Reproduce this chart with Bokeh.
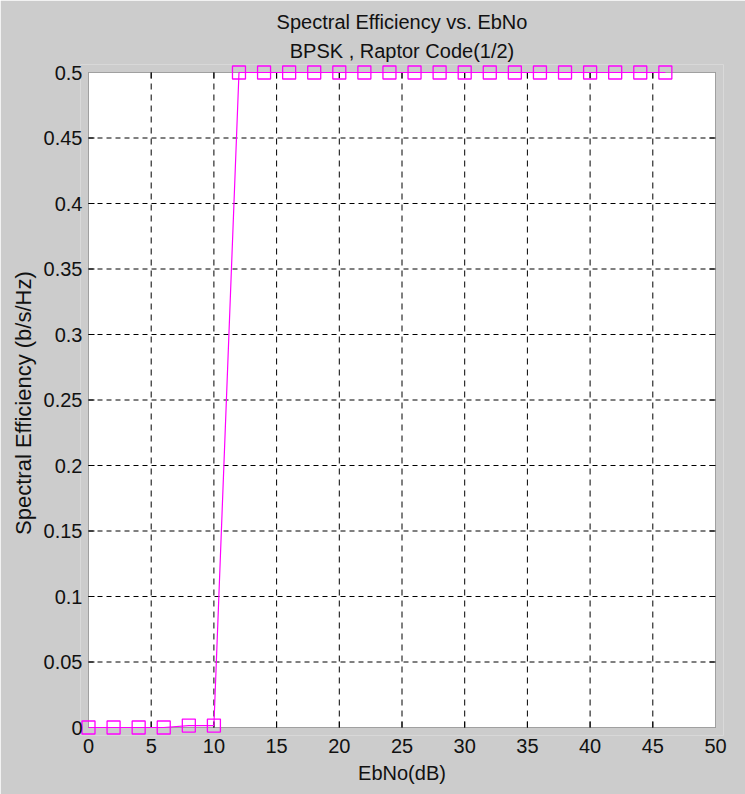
import math
from bokeh.plotting import figure
from bokeh.models import Title, FixedTicker, CustomJSTickFormatter, Range1d, BoxAnnotation
from bokeh.embed import file_html
from bokeh.resources import INLINE

# ---- data ----
ebno_db = [0, 2, 4, 6, 8, 10, 12, 14, 16, 18, 20, 22, 24, 26, 28, 30, 32, 34, 36, 38, 40, 42, 44, 46]
spectral_eff = [0, 0, 0, 0, 0.0015, 0.0015, 0.5, 0.5, 0.5, 0.5, 0.5, 0.5, 0.5, 0.5,
                0.5, 0.5, 0.5, 0.5, 0.5, 0.5, 0.5, 0.5, 0.5, 0.5]
x_ticks = [0, 5, 10, 15, 20, 25, 30, 35, 40, 45, 50]
y_ticks = [0, 0.05, 0.1, 0.15, 0.2, 0.25, 0.3, 0.35, 0.4, 0.45, 0.5]
x_lim = (0, 50)
y_lim = (0, 0.5)
title_lines = ["Spectral Efficiency vs. EbNo", "BPSK , Raptor Code(1/2)"]
x_label = "EbNo(dB)"
y_label = "Spectral Efficiency  (b/s/Hz)"

W, H = 745, 794
PAD = 8  # frame extends this many px beyond the axes box so edge markers are not clipped
BL, BR, BT, BB = 80, 22, 64, 59
FW = W - BL - BR
FH = H - BT - BB
xpad = (x_lim[1] - x_lim[0]) / (FW - 2 * PAD) * PAD
ypad = (y_lim[1] - y_lim[0]) / (FH - 2 * PAD) * PAD

FONT = "'Liberation Sans', Arial, sans-serif"
FS = "20px"
GRAY = "#cccccc"
TXT = "#111111"
MAG = "#ff00ff"

p = figure(width=W, height=H, output_backend="svg", toolbar_location=None,
           x_range=Range1d(x_lim[0] - xpad, x_lim[1] + xpad),
           y_range=Range1d(y_lim[0] - ypad, y_lim[1] + ypad),
           min_border_left=BL, min_border_right=BR, min_border_top=BT, min_border_bottom=BB,
           title=None)
p.border_fill_color = GRAY
p.background_fill_color = GRAY
p.outline_line_color = None
p.xgrid.visible = False
p.ygrid.visible = False

# titles (first added sits nearest the plot)
p.add_layout(Title(text=title_lines[1], align="center", text_font=FONT, text_font_size=FS,
                   text_font_style="normal", text_color=TXT, standoff=5, offset=5), "above")
p.add_layout(Title(text=title_lines[0], align="center", text_font=FONT, text_font_size=FS,
                   text_font_style="normal", text_color=TXT, standoff=6, offset=5), "above")

# white axes box + outline
p.add_layout(BoxAnnotation(left=x_lim[0], right=x_lim[1], bottom=y_lim[0], top=y_lim[1],
                           fill_color="white", fill_alpha=1, line_color=None, level="image"))
p.add_layout(BoxAnnotation(left=x_lim[0], right=x_lim[1], bottom=y_lim[0], top=y_lim[1],
                           fill_color=None, line_color="black", line_width=1, level="underlay"))

# dashed grid
gx = x_ticks[1:-1]
gy = y_ticks[1:-1]
p.segment(x0=gx, y0=[y_lim[0]] * len(gx), x1=gx, y1=[y_lim[1]] * len(gx),
          line_color="black", line_width=1, line_dash="6 5")
p.segment(x0=[x_lim[0]] * len(gy), y0=gy, x1=[x_lim[1]] * len(gy), y1=gy,
          line_color="black", line_width=1, line_dash="5 4")

# inward tick marks on all four sides
TL = 6
p.ray(x=gx, y=[y_lim[0]] * len(gx), length=TL, length_units="screen", angle=math.pi / 2,
      line_color="black", line_width=1)
p.ray(x=gx, y=[y_lim[1]] * len(gx), length=TL, length_units="screen", angle=-math.pi / 2,
      line_color="black", line_width=1)
p.ray(x=[x_lim[0]] * len(gy), y=gy, length=TL, length_units="screen", angle=0,
      line_color="black", line_width=1)
p.ray(x=[x_lim[1]] * len(gy), y=gy, length=TL, length_units="screen", angle=math.pi,
      line_color="black", line_width=1)

# data
p.line(ebno_db, spectral_eff, line_color=MAG, line_width=1.2)
p.scatter(ebno_db, spectral_eff, marker="square", size=13, line_color=MAG,
          fill_color=None, line_width=1.3)

for ax, ticks in ((p.xaxis[0], x_ticks), (p.yaxis[0], y_ticks)):
    ax.ticker = FixedTicker(ticks=ticks)
    ax.formatter = CustomJSTickFormatter(code="return Number(tick.toFixed(2)).toString();")
    ax.major_tick_in = 0
    ax.major_tick_out = 0
    ax.minor_tick_line_color = None
    ax.axis_line_color = None
    ax.major_tick_line_color = None
    ax.major_label_text_font = FONT
    ax.major_label_text_font_size = FS
    ax.major_label_text_color = TXT
    ax.axis_label_text_color = TXT
    ax.axis_label_text_font_style = "normal"
    ax.axis_label_text_font = FONT
p.xaxis.major_label_standoff = 3
p.yaxis.major_label_standoff = -2
p.xaxis.axis_label = x_label
p.xaxis.axis_label_text_font_size = FS
p.xaxis.axis_label_standoff = 6
p.yaxis.axis_label = y_label
p.yaxis.axis_label_text_font_size = "22px"
p.yaxis.axis_label_standoff = 5

open("out.html", "w").write(file_html(p, INLINE))
